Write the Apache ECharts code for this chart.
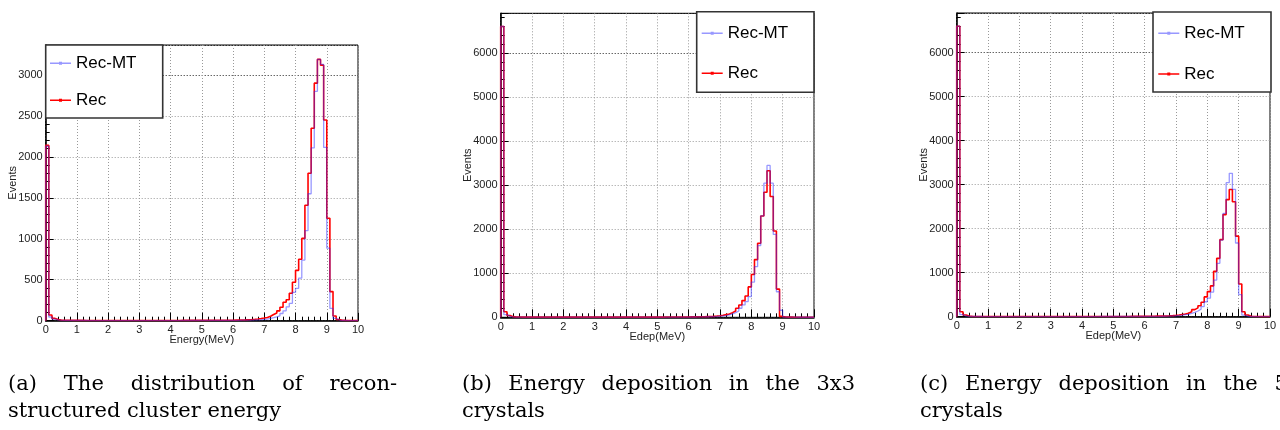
<!DOCTYPE html>
<html>
<head>
<meta charset="utf-8">
<script src="https://cdn.jsdelivr.net/npm/echarts@6/dist/echarts.min.js"></script>
<style>
html,body{margin:0;padding:0;background:#fff;}
#chart{width:1280px;height:430px;}
</style>
</head>
<body>
<div id="chart"></div>
<script>
// ---- data (100 bins of 0.1 MeV from 0 to 10 MeV) ----
const binWidth = 0.1;
const seriesNames = ['Rec-MT', 'Rec'];
const xTitles = ['Energy(MeV)', 'Edep(MeV)', 'Edep(MeV)'];
const yTitle = 'Events';
const yMaxes = [3366, 6900, 6900];
const yIntervals = [500, 1000, 1000];
const captionA1 = ['(a)', 'The', 'distribution', 'of', 'recon-'];
const captionA2 = 'structured cluster energy';
const captionB1 = ['(b)', 'Energy', 'deposition', 'in', 'the', '3x3'];
const captionB2 = 'crystals';
const captionC1 = ['(c)', 'Energy', 'deposition', 'in', 'the', '5x5'];
const captionC2 = 'crystals';

// (a) reconstructed cluster energy
const recMT_a = [2130,45,20,10,6,5,4,4,3,3,
  3,3,3,2,2,2,2,2,2,2,
  2,2,2,2,2,2,2,2,2,2,
  2,2,2,2,2,2,2,2,2,2,
  2,2,2,3,3,3,3,3,3,3,
  3,3,3,4,4,4,4,4,5,5,
  5,5,6,6,7,8,9,10,12,15,
  20,28,37,48,60,88,120,170,212,345,
  395,520,740,1100,1550,2110,2800,3190,3130,2115,
  885,150,28,8,4,3,2,1,1,1];
const rec_a = [2140,70,28,15,8,6,5,5,4,4,
  4,4,3,3,3,3,3,3,3,3,
  3,3,3,3,3,3,3,3,3,3,
  3,3,3,3,3,3,3,3,3,3,
  3,3,3,4,4,4,4,4,4,4,
  4,4,5,5,5,5,5,6,6,6,
  7,8,9,10,12,14,17,21,26,32,
  40,55,75,95,120,165,225,255,335,470,
  615,750,1005,1410,1800,2350,2900,3190,3120,2450,
  1250,355,57,15,6,4,3,2,2,1];

// (b) 3x3 crystals
const recMT_b = [6600,60,20,10,6,5,4,4,3,3,
  3,3,3,3,3,3,3,3,3,3,
  3,3,3,3,3,3,3,3,3,3,
  3,3,3,3,3,3,3,3,3,3,
  3,3,3,3,3,4,4,4,4,4,
  4,4,4,5,5,5,5,6,6,6,
  7,7,8,9,10,12,14,16,20,25,
  30,38,53,76,106,144,205,280,356,470,
  800,1150,1630,2300,3045,3447,3045,1880,580,160,
  5,3,2,2,1,1,1,1,1,1];
const rec_b = [6600,125,40,15,8,6,5,5,4,4,
  4,4,4,4,4,4,4,4,4,4,
  4,4,4,4,4,4,4,4,4,4,
  4,4,4,4,4,4,4,4,4,4,
  4,4,4,5,5,5,5,5,5,5,
  5,5,6,6,6,7,7,7,8,8,
  9,10,11,12,14,16,18,22,28,35,
  45,61,76,106,144,205,280,379,485,690,
  970,1310,1680,2300,2840,3326,2742,1960,640,20,
  8,4,3,2,2,1,1,1,1,1];

// (c) 5x5 crystals
const recMT_c = [6600,45,20,10,6,5,4,4,3,3,
  3,3,3,3,3,3,3,3,3,3,
  3,3,3,3,3,3,3,3,3,3,
  3,3,3,3,3,3,3,3,3,3,
  3,3,3,3,3,4,4,4,4,4,
  4,4,4,5,5,5,5,6,6,6,
  7,7,8,9,9,10,11,14,18,22,
  28,35,45,55,75,100,130,170,230,340,
  420,560,833,1212,1742,2348,3045,3258,2894,1675,
  500,38,10,4,2,2,1,1,1,1];
const rec_c = [6600,114,40,15,8,6,5,5,4,4,
  4,4,4,4,4,4,4,4,4,4,
  4,4,4,4,4,4,4,4,4,4,
  4,4,4,4,4,4,4,4,4,4,
  4,4,4,5,5,5,5,5,5,5,
  5,5,6,6,6,7,7,7,8,8,
  9,10,11,12,13,14,16,20,25,32,
  40,50,60,80,110,160,200,250,330,450,
  570,700,1030,1326,1750,2320,2660,2890,2610,1830,
  742,114,38,10,4,3,2,2,1,1];

const panelData = [[recMT_a, rec_a], [recMT_b, rec_b], [recMT_c, rec_c]];

// ---- build ----
function toSteps(vals) {
  const pts = [[0, 0]];
  vals.forEach((v, i) => pts.push([+(i * binWidth).toFixed(2), v]));
  const end = +(vals.length * binWidth).toFixed(2);
  pts.push([end, vals[vals.length - 1]]);
  pts.push([end, 0]);
  return pts;
}

const FONT = 'Liberation Sans';
const grids = [
  {left: 45.7, top: 45, width: 312.3, height: 275.7},
  {left: 500.7, top: 13.3, width: 313.3, height: 304},
  {left: 956.7, top: 13, width: 313.3, height: 303.7}
];
const blue = 'rgba(40,40,255,0.48)';
const red = '#ff0000';

const gridOpts = grids.map(g => Object.assign({show: true, borderColor: '#000', borderWidth: 1, backgroundColor: 'transparent'}, g));
const xAxes = grids.map((g, i) => ({
  type: 'value', gridIndex: i, min: 0, max: 10, interval: 1,
  axisLine: {show: true, onZero: false, lineStyle: {color: '#000', width: 1.5}},
  axisTick: {show: true, inside: true, length: 8, lineStyle: {color: '#000', width: 1}},
  minorTick: {show: true, splitNumber: 5, length: 4, lineStyle: {color: '#000', width: 1}},
  axisLabel: {fontSize: 11, color: '#222', fontFamily: FONT, margin: 4, formatter: v => String(v)},
  splitLine: {show: true, lineStyle: {color: '#999', type: [1, 2], width: 1}},
  name: xTitles[i], nameLocation: 'middle', nameGap: 14, nameMoveOverlap: false,
  nameTextStyle: {fontSize: 11, color: '#222', fontFamily: FONT, verticalAlign: 'top'}
}));
const yAxes = grids.map((g, i) => ({
  type: 'value', gridIndex: i, min: 0, max: yMaxes[i], interval: yIntervals[i],
  axisLine: {show: true, onZero: false, lineStyle: {color: '#000', width: 1.5}},
  axisTick: {show: true, inside: true, length: 8, lineStyle: {color: '#000', width: 1}},
  minorTick: {show: true, splitNumber: 5, length: 4, lineStyle: {color: '#000', width: 1}},
  axisLabel: {fontSize: 11, color: '#222', fontFamily: FONT, margin: 3, showMaxLabel: false, formatter: v => String(v)},
  splitLine: {show: true, lineStyle: {color: ['#999','#999','#999','#999','#999','#999','#222','#000'], type: [1, 2], width: 1}},
  name: yTitle, nameLocation: 'middle', nameGap: 27, nameMoveOverlap: false,
  nameTextStyle: {fontSize: 11, color: '#222', fontFamily: FONT}
}));

const series = [];
panelData.forEach((pair, i) => {
  series.push({
    name: seriesNames[1], type: 'line', xAxisIndex: i, yAxisIndex: i,
    data: toSteps(pair[1]), step: 'end', symbol: 'none', z: 2,
    lineStyle: {color: red, width: 1.6}, itemStyle: {color: red}, animation: false
  });
  series.push({
    name: seriesNames[0], type: 'line', xAxisIndex: i, yAxisIndex: i,
    data: toSteps(pair[0]), step: 'end', symbol: 'none', z: 3,
    lineStyle: {color: blue, width: 1.3}, itemStyle: {color: blue}, animation: false
  });
});

const legendIcon = 'path://M0,0 L0.01,0 L0.01,0.01 Z M0,9.2 L21,9.2 L21,10.8 L0,10.8 Z M9,8.5 L12,8.5 L12,11.5 L9,11.5 Z M20.99,20 L21,20 L21,19.99 Z';
const legendPos = [
  {left: 50, top: 53.3, itemGap: 17},
  {left: 701.7, top: 23.3, itemGap: 20},
  {left: 1158.3, top: 23.3, itemGap: 20.7}
];
const legends = legendPos.map(p => ({
  data: seriesNames, orient: 'vertical', left: p.left, top: p.top, itemGap: p.itemGap,
  itemWidth: 21, itemHeight: 20, padding: 0, icon: legendIcon, selectedMode: false, z: 20,
  textStyle: {fontSize: 17, fontFamily: FONT, color: '#000', lineHeight: 20}
}));

const boxStyle = {fill: '#fff', stroke: '#333', lineWidth: 1.6};
const capFont = '21px "DejaVu Serif"';
const line1Y = 385, line2Y = 412;
const graphics = [
  {type: 'rect', z: 10, shape: {x: 45.7, y: 45, width: 117, height: 73}, style: boxStyle},
  {type: 'rect', z: 10, shape: {x: 696.7, y: 11.7, width: 117.3, height: 80.6}, style: boxStyle},
  {type: 'rect', z: 10, shape: {x: 1153, y: 12, width: 118, height: 80}, style: boxStyle}
];
const measureCtx = document.createElement('canvas').getContext('2d');
measureCtx.font = capFont;
function capText(t, x, y) {
  return {type: 'text', x: x, y: y, style: {text: t, font: capFont, fill: '#000', verticalAlign: 'middle'}};
}
// justified first lines (as typeset in the document)
function justify(words, x0, x1, y) {
  const widths = words.map(w => measureCtx.measureText(w).width);
  const total = widths.reduce((s, w) => s + w, 0);
  const gap = (x1 - x0 - total) / (words.length - 1);
  let x = x0;
  words.forEach((w, k) => { graphics.push(capText(w, x, y)); x += widths[k] + gap; });
}
justify(captionA1, 8, 397, line1Y);
graphics.push(capText(captionA2, 8, line2Y));
justify(captionB1, 462, 855, line1Y);
graphics.push(capText(captionB2, 462, line2Y));
justify(captionC1, 920, 1313, line1Y);
graphics.push(capText(captionC2, 920, line2Y));

const chart = echarts.init(document.getElementById('chart'), null, {renderer: 'canvas'});
chart.setOption({
  animation: false,
  backgroundColor: '#fff',
  grid: gridOpts,
  xAxis: xAxes,
  yAxis: yAxes,
  legend: legends,
  series: series,
  graphic: graphics
});
</script>
</body>
</html>
